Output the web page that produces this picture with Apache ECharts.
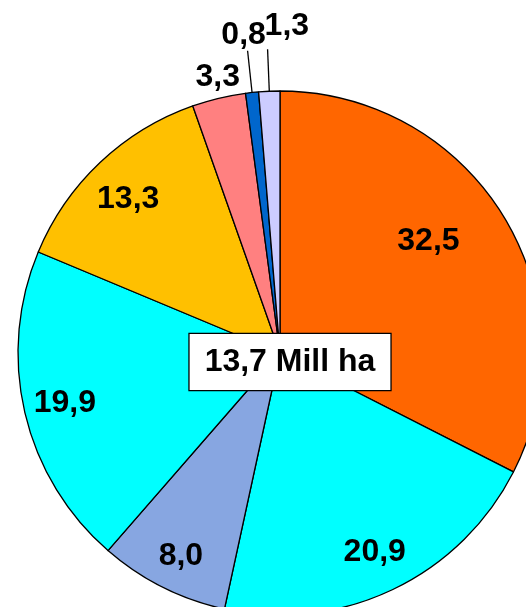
<!DOCTYPE html>
<html>
<head>
<meta charset="utf-8">
<title>Pie</title>
<script src="https://cdn.jsdelivr.net/npm/echarts@6/dist/echarts.min.js"></script>
<style>
  html, body { margin: 0; padding: 0; background: #fff; }
  #chart { width: 526px; height: 607px; }
</style>
</head>
<body>
<div id="chart"></div>
<script>
// slice values, clockwise from 12 o'clock
const labels = ['32,5', '20,9', '8,0', '19,9', '13,3', '3,3', '0,8', '1,3']
const values = [32.5, 20.9, 8.0, 19.9, 13.3, 3.3, 0.8, 1.3]
const colors = ['#FF6600', '#00FFFF', '#87A6E1', '#00FFFF', '#FFC000', '#FF8080', '#0066CC', '#CCCCFF']
const centerText = '13,7 Mill ha'

const chart = echarts.init(document.getElementById('chart'))

const font = {
  fontFamily: 'Liberation Sans, Arial, sans-serif',
  fontWeight: 'bold',
  fontSize: 32,
  color: '#000'
}

// sectors
const sliceData = values.map((v, i) => ({
  value: v,
  name: labels[i],
  itemStyle: { color: colors[i] }
}))

// transparent ring that only carries the labels
const labelData = values.map((v, i) => {
  const item = { value: v, name: labels[i] }
  if (i >= 5) {
    item.label = { position: 'outside' }
    item.labelLine = { show: i > 5, length: i === 5 ? 22 : 42, length2: 0 }
  }
  return item
})

chart.setOption({
  animation: false,
  series: [
    {
      type: 'pie',
      center: [280, 353],
      radius: 262,
      startAngle: 90,
      clockwise: true,
      silent: true,
      label: { show: false },
      labelLine: { show: false },
      itemStyle: { borderColor: '#000', borderWidth: 1.3 },
      data: sliceData
    },
    {
      type: 'pie',
      center: [280, 353],
      radius: [174, 262],
      startAngle: 90,
      clockwise: true,
      silent: true,
      avoidLabelOverlap: false,
      itemStyle: { color: 'rgba(0,0,0,0)', borderWidth: 0 },
      label: Object.assign({ show: true, position: 'inside', formatter: '{b}' }, font),
      labelLine: { lineStyle: { color: '#000', width: 1.3 } },
      labelLayout: (p) => {
        switch (p.dataIndex) {
          case 0: return { dx: -40, dy: 4 }
          case 2: return { dy: 6 }
          case 4: return { dy: 7 }
          case 5: return { align: 'center', verticalAlign: 'middle', dx: 9 }
          case 6: return { align: 'center', verticalAlign: 'bottom', dx: 1 }
          case 7: return { align: 'left', verticalAlign: 'bottom', dx: 2, dy: -7 }
          default: return {}
        }
      },
      data: labelData
    }
  ],
  graphic: [
    {
      type: 'text',
      x: 290,
      y: 362,
      z: 100,
      style: {
        text: centerText,
        align: 'center',
        verticalAlign: 'middle',
        backgroundColor: '#fff',
        borderColor: '#000',
        borderWidth: 1.3,
        padding: [12, 15, 12, 15],
        fill: '#000',
        font: 'bold 32px "Liberation Sans", Arial, sans-serif'
      }
    }
  ]
})
</script>
</body>
</html>
